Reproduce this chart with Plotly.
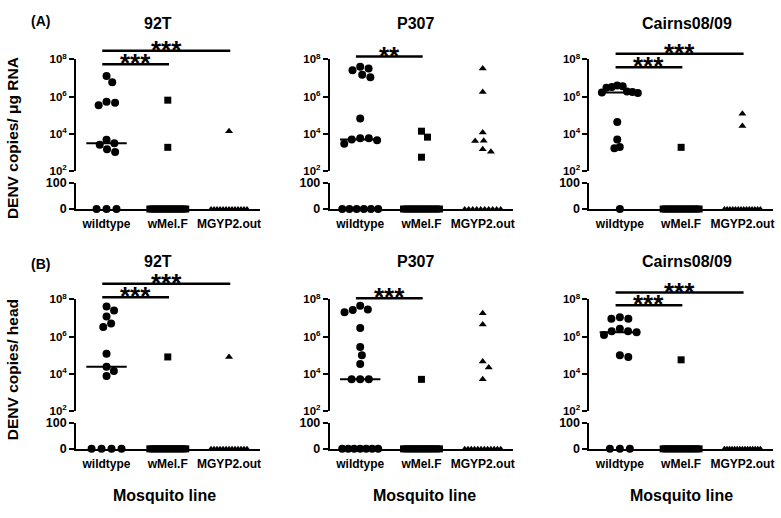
import math
import numpy as np
import plotly.graph_objects as go

# ---------------- data ----------------
categories = ["wildtype", "wMel.F", "MGYP2.out"]
strains = ["92T", "P307", "Cairns08/09"]
row_labels = ["(A)", "(B)"]
y_titles = ["DENV copies/ μg RNA", "DENV copies/ head"]
x_title = "Mosquito line"

# Row A: DENV copies / µg RNA
rna_92T_wildtype = [1.3e7, 6e6, 4.7e5, 3.5e5, 5.3e5, 4.9e3, 3.2e3, 2.6e3, 1.5e3, 1.07e3, 0, 0, 0]
rna_92T_wMelF = [6.5e5, 1.9e3] + [0] * 16
rna_92T_MGYP2 = [1.4e4] + [0] * 13

rna_P307_wildtype = [3.3e7, 4.1e7, 2.6e7, 1.5e7, 1.1e7, 6.7e4, 5.9e3, 4.5e3, 5.0e3, 5.9e3, 3.0e3] + [0] * 6
rna_P307_wMelF = [6.7e3, 1.4e4, 5.6e2] + [0] * 14
rna_P307_MGYP2 = [3.3e7, 1.8e6, 1.2e4, 4.2e3, 4.3e3, 1.5e3, 1.1e3] + [0] * 10

rna_Cairns_wildtype = [4.0e6, 3.6e6, 3.3e6, 3.0e6, 1.9e6, 1.8e6, 1.7e6, 1.6e6, 4.4e4, 5.0e3, 2.0e3, 1.7e3, 0]
rna_Cairns_wMelF = [1.9e3] + [0] * 15
rna_Cairns_MGYP2 = [1.2e5, 2.7e4] + [0] * 14

# Row B: DENV copies / head
head_92T_wildtype = [4.1e7, 2.5e7, 1.2e7, 3.3e6, 5.0e6, 1.2e5, 2.4e4, 1.4e4, 7.6e3, 0, 0, 0, 0]
head_92T_wMelF = [8.0e4] + [0] * 16
head_92T_MGYP2 = [8.0e4] + [0] * 13

head_P307_wildtype = [4.5e7, 2.7e7, 2.0e7, 2.8e7, 2.9e6, 2.7e5, 9.8e4, 3.3e4, 5.0e3, 5.0e3, 5.0e3] + [0] * 7
head_P307_wMelF = [5.0e3] + [0] * 15
head_P307_MGYP2 = [1.8e7, 4.4e6, 2.2e4, 4.6e4, 5.0e3] + [0] * 12

head_Cairns_wildtype = [9.0e6, 9.0e6, 1.07e7, 2.6e6, 1.9e6, 1.2e6, 1.7e6, 1.9e6, 9.8e4, 8.0e4, 0, 0, 0]
head_Cairns_wMelF = [5.6e4] + [0] * 15
head_Cairns_MGYP2 = [0] * 15

panels = [
    [[rna_92T_wildtype, rna_92T_wMelF, rna_92T_MGYP2],
     [rna_P307_wildtype, rna_P307_wMelF, rna_P307_MGYP2],
     [rna_Cairns_wildtype, rna_Cairns_wMelF, rna_Cairns_MGYP2]],
    [[head_92T_wildtype, head_92T_wMelF, head_92T_MGYP2],
     [head_P307_wildtype, head_P307_wMelF, head_P307_MGYP2],
     [head_Cairns_wildtype, head_Cairns_wMelF, head_Cairns_MGYP2]],
]

# significance comparisons: (row, col, compared group, label)
sig_tests = [
    (0, 0, 2, "***"), (0, 0, 1, "***"),
    (0, 1, 1, "**"),
    (0, 2, 2, "***"), (0, 2, 1, "***"),
    (1, 0, 2, "***"), (1, 0, 1, "***"),
    (1, 1, 1, "***"),
    (1, 2, 2, "***"), (1, 2, 1, "***"),
]

# ---------------- layout / style ----------------
W, H = 781, 518
FONT = "Liberation Sans"
col_px = [(76, 260), (330, 514), (590, 774)]
row_px = [dict(up=(53, 168), low=(180, 207)), dict(up=(300, 415), low=(427, 454))]
# vertical bar positions (px relative to the 10^8 line)
sig_offsets = {(0, 0, 2): -9, (0, 0, 1): 5, (0, 1, 1): -3, (0, 2, 2): -6, (0, 2, 1): 8,
               (1, 0, 2): -16, (1, 0, 1): -2, (1, 1, 1): -1, (1, 2, 2): -7, (1, 2, 1): 6}
symbols = ["circle", "square", "triangle-up"]
sizes = [8, 7, 7]
title_x = [158, 416, 688]
xtitle_x = [165, 425, 682]
MAX_HALF = 18.0  # max horizontal spread of a column (px)


def pyp(px):
    return 1 - px / H


def pxp(px):
    return px / W


def swarm(vals, px_dec, D):
    ys = [-math.log10(v) * px_dec for v in vals]
    order = sorted(range(len(vals)), key=lambda i: -vals[i])
    placed, offs = [], [0.0] * len(vals)
    for i in order:
        y = ys[i]
        ivs = []
        for xx, yy in placed:
            dy = abs(y - yy)
            if dy < D:
                h = math.sqrt(D * D - dy * dy)
                ivs.append((xx - h, xx + h))
        cands = [0.0] + [a for a, b in ivs] + [b for a, b in ivs]
        ok = [c for c in cands if all(not (a + 1e-6 < c < b - 1e-6) for a, b in ivs)]
        best = min(ok, key=lambda c: (round(abs(c), 6), -c))
        offs[i] = best
        placed.append((best, y))
    lo, hi = min(offs), max(offs)
    mid = (lo + hi) / 2.0 if hi - lo > 2 * MAX_HALF else 0.0
    span = max(abs(o - mid) for o in offs)
    scale = min(1.0, MAX_HALF / span) if span > 0 else 1.0
    return [(o - mid) * scale for o in offs]


fig = go.Figure()
layout = dict(width=W, height=H, margin=dict(l=0, r=0, t=0, b=0),
              paper_bgcolor="white", plot_bgcolor="white", showlegend=False,
              font=dict(family=FONT, color="black"))
annotations, shapes = [], []

for r in range(2):
    up0, up1 = row_px[r]["up"]
    lo0, lo1 = row_px[r]["low"]
    px_dec = (up1 - up0) / 6.0
    for c in range(3):
        x0, x1 = col_px[c]
        ppu = (x1 - x0) / 3.0
        k = (r * 3 + c) * 2 + 1
        ku, kl = str(k), str(k + 1)
        layout["xaxis" + ku] = dict(domain=[pxp(x0), pxp(x1)], range=[-0.5, 2.5], anchor="y" + ku,
                                    visible=False)
        layout["yaxis" + ku] = dict(domain=[pyp(up1), pyp(up0)], type="log", range=[2, 8],
                                    anchor="x" + ku, showline=True, linewidth=1.5, linecolor="black",
                                    ticks="outside", ticklen=5, tickwidth=1.5, tickcolor="black",
                                    tickvals=[1e2, 1e4, 1e6, 1e8],
                                    ticktext=["10<sup>2</sup>", "10<sup>4</sup>", "10<sup>6</sup>", "10<sup>8</sup>"],
                                    tickfont=dict(size=11.5, family=FONT, weight="bold"),
                                    showgrid=False, zeroline=False)
        layout["xaxis" + kl] = dict(domain=[pxp(x0), pxp(x1)], range=[-0.5, 2.5], anchor="y" + kl,
                                    showline=True, linewidth=2, linecolor="black",
                                    tickvals=[0, 1, 2], ticktext=categories, ticks="outside",
                                    ticklen=3, tickcolor="rgba(0,0,0,0)",
                                    tickfont=dict(size=12, family=FONT, weight="bold"),
                                    showgrid=False, zeroline=False)
        layout["yaxis" + kl] = dict(domain=[pyp(lo1), pyp(lo0)], range=[0, 100], anchor="x" + kl,
                                    showline=True, linewidth=1.5, linecolor="black",
                                    ticks="outside", ticklen=5, tickwidth=1.5, tickcolor="black",
                                    tickvals=[0, 100], ticktext=["0", "100"],
                                    tickfont=dict(size=12.5, family=FONT, weight="bold"),
                                    showgrid=False, zeroline=False)

        for j, vals in enumerate(panels[r][c]):
            pos = [v for v in vals if v > 0]
            nz = len(vals) - len(pos)
            if pos:
                offs = swarm(pos, px_dec, 8.6)
                fig.add_trace(go.Scatter(x=[j + o / ppu for o in offs], y=pos, mode="markers",
                                         xaxis="x" + ku, yaxis="y" + ku, cliponaxis=False,
                                         marker=dict(symbol=symbols[j], size=sizes[j], color="black"),
                                         hoverinfo="skip"))
            if nz:
                s = 10.0 if nz == 1 else min(10.0, 36.0 / (nz - 1))
                xz = [j + (i - (nz - 1) / 2.0) * s / ppu for i in range(nz)]
                fig.add_trace(go.Scatter(x=xz, y=[0] * nz, mode="markers",
                                         xaxis="x" + kl, yaxis="y" + kl, cliponaxis=False,
                                         marker=dict(symbol=symbols[j], size=sizes[j] - (1 if j == 2 else 0),
                                                     color="black"),
                                         hoverinfo="skip"))
            med = float(np.median(vals))
            if med > 0:
                fig.add_trace(go.Scatter(x=[j - 0.33, j + 0.33], y=[med, med], mode="lines",
                                         xaxis="x" + ku, yaxis="y" + ku,
                                         line=dict(color="black", width=2), hoverinfo="skip"))

        # titles
        annotations.append(dict(text="<b>%s</b>" % strains[c], x=pxp(title_x[c]),
                                y=pyp([16, 261][r]), xref="paper", yref="paper", showarrow=False,
                                font=dict(size=16, family=FONT), xanchor="center", yanchor="middle"))
        if r == 1:
            annotations.append(dict(text="<b>%s</b>" % x_title, x=pxp(xtitle_x[c]), y=pyp(502),
                                    xref="paper", yref="paper", showarrow=False,
                                    font=dict(size=16, family=FONT), xanchor="center", yanchor="middle"))

    annotations.append(dict(text="<b>%s</b>" % row_labels[r], x=pxp(41), y=pyp([13, 264][r]),
                            xref="paper", yref="paper", showarrow=False,
                            font=dict(size=14, family=FONT), xanchor="center", yanchor="middle"))
    annotations.append(dict(text="<b>%s</b>" % y_titles[r], x=pxp(12), y=pyp([134, 372][r]),
                            xref="paper", yref="paper", showarrow=False, textangle=-90,
                            font=dict(size=15.5, family=FONT), xanchor="center", yanchor="middle"))

for (r, c, g, lab) in sig_tests:
    k = (r * 3 + c) * 2 + 1
    ytop = row_px[r]["up"][0] + sig_offsets[(r, c, g)]
    xa, xb = -0.07, g + 0.02
    shapes.append(dict(type="line", xref="x%d" % k, yref="paper", x0=xa, x1=xb,
                       y0=pyp(ytop), y1=pyp(ytop), line=dict(color="black", width=2.5)))
    annotations.append(dict(text="<b>%s</b>" % lab, x=(xa + xb) / 2, y=pyp(ytop), xref="x%d" % k,
                            yref="paper", showarrow=False, xanchor="center", yanchor="middle",
                            yshift=1, font=dict(size=26, family=FONT)))

layout["annotations"] = annotations
layout["shapes"] = shapes
fig.update_layout(**layout)
fig.write_html("out.html", config={"displayModeBar": False},
               post_script="document.body.style.margin='0px';")
